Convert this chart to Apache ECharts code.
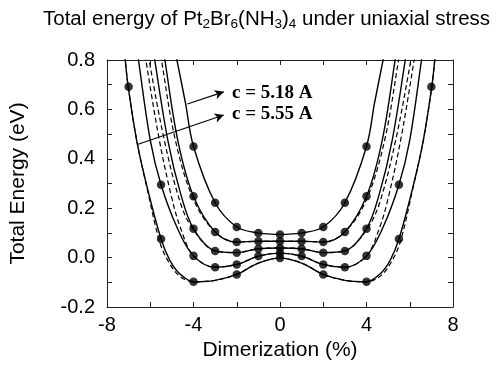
<!DOCTYPE html>
<html>
<head>
<meta charset="utf-8">
<script src="https://cdn.jsdelivr.net/npm/echarts@6/dist/echarts.min.js"></script>
<style>
  html, body { margin: 0; padding: 0; background: #fff; }
  #chart { width: 496px; height: 366px; }
</style>
</head>
<body>
<div id="chart"></div>
<script>
// solid curves (fitted)
const lineAX = [-5.05, -4.79, -4.38, -4, -3, -2, -1, 0, 1, 2, 3, 4, 4.38, 4.79, 5.05];
const lineAY = [0.93, 0.81, 0.63, 0.45, 0.222, 0.124, 0.100, 0.094, 0.100, 0.124, 0.222, 0.45, 0.63, 0.81, 0.93];
const lineBX = [-5.58, -5.34, -4.73, -4, -3, -2, -1, 0, 1, 2, 3, 4, 4.73, 5.34, 5.58];
const lineBY = [0.95, 0.81, 0.476, 0.248, 0.104, 0.063, 0.066, 0.066, 0.066, 0.063, 0.104, 0.248, 0.476, 0.81, 0.95];
const lineCX = [-6.05, -5.81, -5.19, -4.6, -4, -3, -2, -1, 0, 1, 2, 3, 4, 4.6, 5.19, 5.81, 6.05];
const lineCY = [0.95, 0.81, 0.476, 0.26, 0.117, 0.027, 0.020, 0.036, 0.039, 0.036, 0.020, 0.027, 0.117, 0.26, 0.476, 0.81, 0.95];
const lineDX = [-6.8, -6.56, -6.0, -5.5, -4.75, -4, -3, -2, -1, 0, 1, 2, 3, 4, 4.75, 5.5, 6.0, 6.56, 6.8];
const lineDY = [0.96, 0.81, 0.476, 0.295, 0.12, 0.007, -0.039, -0.028, 0.006, 0.018, 0.006, -0.028, -0.039, 0.007, 0.12, 0.295, 0.476, 0.81, 0.96];
const lineEX = [-7.35, -7.17, -7.02, -6.63, -6.17, -5.5, -5.1, -4.64, -4, -3, -2, -1, 0, 1, 2, 3, 4, 4.64, 5.1, 5.5, 6.17, 6.63, 7.02, 7.17, 7.35];
const lineEY = [0.95, 0.81, 0.692, 0.476, 0.294, 0.075, -0.01, -0.065, -0.098, -0.092, -0.068, -0.022, -0.002, -0.022, -0.068, -0.092, -0.098, -0.065, -0.01, 0.075, 0.294, 0.476, 0.692, 0.81, 0.95];

// dashed curves
const dashBX = [-5.75, -5.5, -4.84, -4, -3, -2, -1, 0, 1, 2, 3, 4, 4.84, 5.5, 5.75];
const dashBY = [0.95, 0.81, 0.476, 0.235, 0.104, 0.063, 0.066, 0.066, 0.066, 0.063, 0.104, 0.235, 0.476, 0.81, 0.95];
const dashCX = [-6.3, -6.07, -5.35, -4.6, -4, -3, -2, -1, 0, 1, 2, 3, 4, 4.6, 5.35, 6.07, 6.3];
const dashCY = [0.95, 0.81, 0.476, 0.22, 0.112, 0.027, 0.020, 0.036, 0.039, 0.036, 0.020, 0.027, 0.112, 0.22, 0.476, 0.81, 0.95];
const dashDX = [-6.45, -6.22, -5.58, -5.0, -4.6, -4, -3, -2, -1, 0, 1, 2, 3, 4, 4.6, 5.0, 5.58, 6.22, 6.45];
const dashDY = [0.95, 0.81, 0.476, 0.24, 0.12, 0.007, -0.039, -0.028, 0.006, 0.018, 0.006, -0.028, -0.039, 0.007, 0.12, 0.24, 0.476, 0.81, 0.95];
const dashEX = [-7.35, -7.17, -7.02, -6.63, -6.17, -5.55, -5.1, -4.64, -4, -3, -2, -1, 0, 1, 2, 3, 4, 4.64, 5.1, 5.55, 6.17, 6.63, 7.02, 7.17, 7.35];
const dashEY = [0.95, 0.81, 0.692, 0.476, 0.29, 0.06, -0.025, -0.075, -0.098, -0.092, -0.068, -0.022, -0.002, -0.022, -0.068, -0.092, -0.098, -0.075, -0.025, 0.06, 0.29, 0.476, 0.692, 0.81, 0.95];

// calculated points (dots)
const dotAX = [-4, -3, -2, -1, 0, 1, 2, 3, 4];
const dotAY = [0.45, 0.222, 0.124, 0.100, 0.094, 0.100, 0.124, 0.222, 0.45];
const dotBX = [-4, -3, -2, -1, 0, 1, 2, 3, 4];
const dotBY = [0.248, 0.104, 0.063, 0.066, 0.066, 0.066, 0.063, 0.104, 0.248];
const dotCX = [-4, -3, -2, -1, 0, 1, 2, 3, 4];
const dotCY = [0.117, 0.027, 0.020, 0.036, 0.039, 0.036, 0.020, 0.027, 0.117];
const dotDX = [-5.5, -4, -3, -2, -1, 0, 1, 2, 3, 4, 5.5];
const dotDY = [0.295, 0.007, -0.039, -0.028, 0.006, 0.018, 0.006, -0.028, -0.039, 0.007, 0.295];
const dotEX = [-7, -5.5, -4, -2, 0, 2, 4, 5.5, 7];
const dotEY = [0.692, 0.075, -0.098, -0.068, -0.002, -0.068, -0.098, 0.075, 0.692];

// annotations (data coords)
const arrow1 = [[-4.28, 0.622], [-2.6, 0.671]];
const arrow2 = [[-6.56, 0.459], [-2.6, 0.577]];
const label1 = { text: 'c = 5.18 A', at: [-2.22, 0.668] };
const label2 = { text: 'c = 5.55 A', at: [-2.22, 0.583] };

const FONT = 'Liberation Sans, Arial, Helvetica, sans-serif';

function zip(xs, ys) {
  return xs.map((x, i) => [x, ys[i]]);
}

function solid(xs, ys) {
  return {
    type: 'line', data: zip(xs, ys), smooth: 0.35, showSymbol: false, silent: true,
    lineStyle: { color: '#000', width: 1.4 }, z: 3
  };
}
function dashed(xs, ys) {
  return {
    type: 'line', data: zip(xs, ys), smooth: 0.35, showSymbol: false, silent: true,
    lineStyle: { color: '#000', width: 1.2, type: [5, 3] }, z: 2
  };
}
function dots(xs, ys) {
  return {
    type: 'scatter', data: zip(xs, ys), symbol: 'circle', symbolSize: 8.5, silent: true,
    itemStyle: { color: '#000' }, z: 5
  };
}

const chart = echarts.init(document.getElementById('chart'));

const tickStyle = { inside: true, length: 5, lineStyle: { color: '#222' } };
const lineStyleAxis = { onZero: false, lineStyle: { color: '#222', width: 1 } };

const option = {
  animation: false,
  backgroundColor: '#fff',
  title: {
    text: 'Total energy of Pt{s|2}Br{s|6}(NH{s|3}){s|4} under uniaxial stress',
    left: 43, top: 7, padding: 0,
    textStyle: {
      fontFamily: FONT, fontSize: 20.5, fontWeight: 'normal', color: '#000', lineHeight: 24,
      rich: { s: { fontFamily: FONT, fontSize: 13.5, lineHeight: 14, verticalAlign: 'bottom', color: '#000' } }
    }
  },
  grid: { left: 106, top: 60, width: 347, height: 247, containLabel: false },
  xAxis: [{
    type: 'value', min: -8, max: 8, interval: 2,
    name: 'Dimerization (%)', nameLocation: 'middle', nameGap: 30,
    nameTextStyle: { fontFamily: FONT, fontSize: 21, color: '#000' },
    axisLine: lineStyleAxis, axisTick: tickStyle, splitLine: { show: false },
    axisLabel: {
      fontFamily: FONT, fontSize: 20, color: '#000', margin: 8,
      formatter: v => (v % 4 === 0 ? String(v) : '')
    }
  }, {
    type: 'value', min: -8, max: 8, interval: 2, position: 'top',
    axisLine: lineStyleAxis, axisTick: tickStyle, axisLabel: { show: false }, splitLine: { show: false }
  }],
  yAxis: [{
    type: 'value', min: -0.2, max: 0.8, interval: 0.1,
    name: 'Total Energy (eV)', nameLocation: 'middle', nameGap: 78,
    nameTextStyle: { fontFamily: FONT, fontSize: 21, color: '#000' },
    axisLine: lineStyleAxis, axisTick: tickStyle, splitLine: { show: false },
    axisLabel: {
      fontFamily: FONT, fontSize: 20, color: '#000', margin: 12,
      formatter: v => (Math.abs(Math.round(v * 10)) % 2 === 0 ? v.toFixed(1) : '')
    }
  }, {
    type: 'value', min: -0.2, max: 0.8, interval: 0.1, position: 'right',
    axisLine: lineStyleAxis, axisTick: tickStyle, axisLabel: { show: false }, splitLine: { show: false }
  }],
  series: [
    dashed(dashBX, dashBY), dashed(dashCX, dashCY), dashed(dashDX, dashDY), dashed(dashEX, dashEY),
    solid(lineAX, lineAY), solid(lineBX, lineBY), solid(lineCX, lineCY), solid(lineDX, lineDY), solid(lineEX, lineEY),
    dots(dotAX, dotAY), dots(dotBX, dotBY), dots(dotCX, dotCY), dots(dotDX, dotDY), dots(dotEX, dotEY),
    {
      type: 'line', data: [], silent: true,
      markLine: {
        silent: true, symbol: ['none', 'arrow'], symbolSize: [7, 9], animation: false,
        label: { show: false },
        lineStyle: { color: '#000', width: 1.1, type: 'solid' },
        data: [
          [{ coord: arrow1[0] }, { coord: arrow1[1] }],
          [{ coord: arrow2[0] }, { coord: arrow2[1] }]
        ]
      }
    }
  ]
};

chart.setOption(option);

// annotation text placed from data coordinates
const labels = [label1, label2].map(l => {
  const p = chart.convertToPixel({ gridIndex: 0 }, l.at);
  return {
    type: 'text', x: p[0], y: p[1],
    style: {
      text: l.text, fill: '#000', font: 'bold 19px "Liberation Serif", "Times New Roman", serif',
      textVerticalAlign: 'middle', verticalAlign: 'middle'
    }
  };
});
chart.setOption({ graphic: labels });
</script>
</body>
</html>
